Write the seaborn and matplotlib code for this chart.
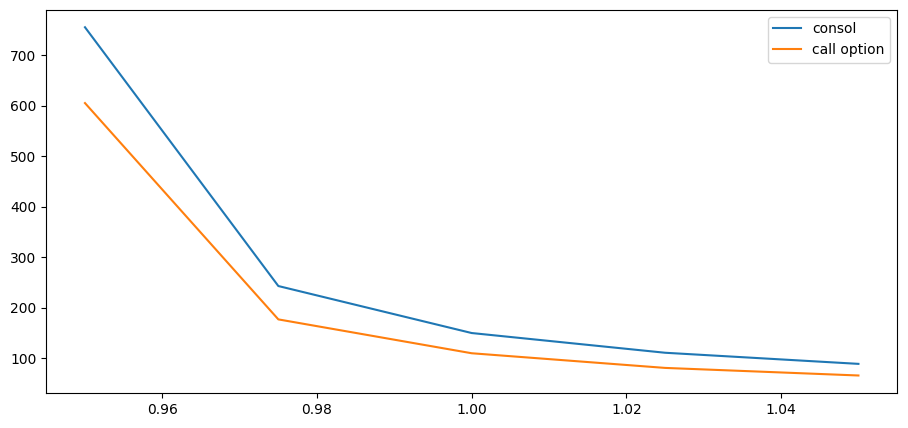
import pandas as pd
import numpy as np
import seaborn as sns
import matplotlib.pyplot as plt

rates = [0.95, 0.975, 1.00, 1.025, 1.05]
consol = [755, 243, 150, 111, 89]
call_option = [605, 177, 110, 81, 66]

df = pd.DataFrame({"rate": rates, "consol": consol, "call option": call_option})
df = df.melt(id_vars="rate", var_name="series", value_name="value")

fig, ax = plt.subplots(figsize=(9.08, 4.28), dpi=100)
sns.lineplot(data=df, x="rate", y="value", hue="series", ax=ax)
ax.set_xlabel("")
ax.set_ylabel("")
ax.legend(title=None)
fig.subplots_adjust(left=0.051, right=0.988, top=0.977, bottom=0.082)
fig.savefig("out.png", dpi=100)
